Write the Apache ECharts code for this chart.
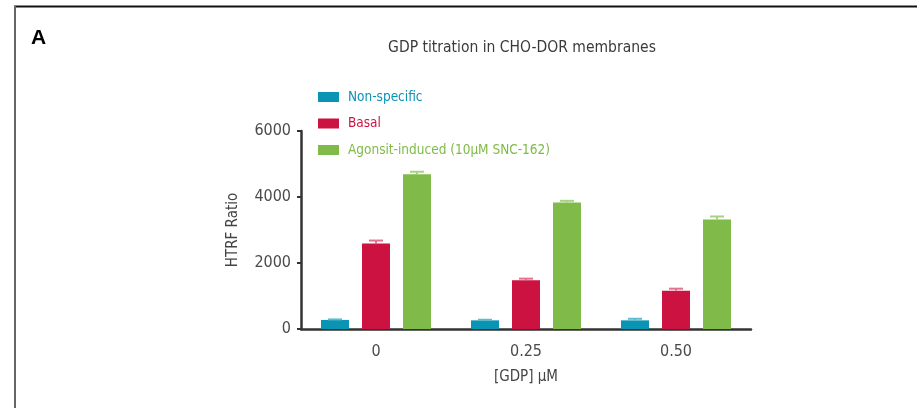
<!DOCTYPE html>
<html>
<head>
<meta charset="utf-8">
<script src="https://cdn.jsdelivr.net/npm/echarts@6/dist/echarts.min.js"></script>
<style>
  html, body { margin: 0; padding: 0; background: #fff; }
  #chart { width: 917px; height: 408px; }
</style>
</head>
<body>
<div id="chart"></div>
<script>
// GDP concentrations (µM)
const categories = ['0', '0.25', '0.50'];
const seriesNames = ['Non-specific', 'Basal', 'Agonsit-induced (10µM SNC-162)'];
// Mean HTRF ratio per condition
const nonSpecific = [275, 262, 262];
const basal = [2590, 1474, 1161];
const agonist = [4687, 3836, 3319];
// Upper end of the error bar (mean + SD)
const nonSpecificErr = [290, 280, 310];
const basalErr = [2680, 1526, 1222];
const agonistErr = [4766, 3884, 3410];
const yTicks = [0, 2000, 4000, 6000];

const colors = ['#0A94B4', '#CC1241', '#80BB49'];
const capColors = ['#5DBBD0', '#E4728D', '#A6D37F'];
const FONT = '"Liberation Sans Narrow", "DejaVu Sans Condensed", Roboto, sans-serif';

const BAR_W = 28, BAR_GAP = 13;
const means = [nonSpecific, basal, agonist];
const errs = [nonSpecificErr, basalErr, agonistErr];

function errorSeries(idx) {
  return {
    type: 'custom',
    name: seriesNames[idx] + ' SD',
    z: 3,
    silent: true,
    data: categories.map((c, i) => [i, means[idx][i], errs[idx][i]]),
    renderItem: function (params, api) {
      const x = api.coord([api.value(0), 0])[0] + (idx - 1) * (BAR_W + BAR_GAP);
      const yTop = api.coord([api.value(0), api.value(1)])[1];
      const yErr = api.coord([api.value(0), api.value(2)])[1];
      const half = 7;
      return {
        type: 'group',
        children: [
          { type: 'line', shape: { x1: x, y1: yTop, x2: x, y2: yErr },
            style: { stroke: capColors[idx], lineWidth: 2 } },
          { type: 'line', shape: { x1: x - half, y1: yErr, x2: x + half, y2: yErr },
            style: { stroke: capColors[idx], lineWidth: 2 } }
        ]
      };
    }
  };
}

const chart = echarts.init(document.getElementById('chart'), null, { renderer: 'canvas' });
chart.setOption({
  animation: false,
  backgroundColor: '#fff',
  title: {
    text: 'GDP titration in CHO-DOR membranes',
    left: 517, top: 35, textAlign: 'center',
    textStyle: { fontFamily: FONT, fontSize: 15.5, fontWeight: 'normal', color: '#3a3a3a' }
  },
  graphic: [
    { type: 'line', shape: { x1: 14, y1: 6.5, x2: 917, y2: 6.5 }, style: { stroke: '#111', lineWidth: 2 } },
    { type: 'line', shape: { x1: 15, y1: 6, x2: 15, y2: 408 }, style: { stroke: '#666', lineWidth: 2 } },
    { type: 'text', left: 31, top: 28,
      style: { text: 'A', font: 'bold 21px "Liberation Sans", Arial, sans-serif', fill: '#000' } }
  ],
  legend: {
    orient: 'vertical',
    left: 313, top: 85,
    itemWidth: 21, itemHeight: 10,
    itemGap: 12.5,
    icon: 'rect',
    textStyle: { fontFamily: FONT, fontSize: 13.5, lineHeight: 14, padding: [0, 0, 0, 4] },
    data: seriesNames.map((n, i) => ({ name: n, textStyle: { color: colors[i] } }))
  },
  grid: { left: 301, width: 450, top: 131, bottom: 408 - 329 },
  xAxis: {
    type: 'category',
    data: categories,
    name: '[GDP] µM',
    nameLocation: 'middle',
    nameGap: 41,
    nameTextStyle: { fontFamily: FONT, fontSize: 15, color: '#444' },
    axisLine: { lineStyle: { color: '#333', width: 2.5 } },
    axisTick: { alignWithLabel: true, length: 6, lineStyle: { color: '#333', width: 2 } },
    axisLabel: { fontFamily: FONT, fontSize: 16, color: '#4a4a4a', margin: 15 }
  },
  yAxis: {
    type: 'value',
    min: yTicks[0], max: yTicks[yTicks.length - 1], interval: 2000,
    name: 'HTRF Ratio',
    nameLocation: 'middle',
    nameGap: 60,
    nameTextStyle: { fontFamily: FONT, fontSize: 15, color: '#444' },
    axisLine: { show: true, lineStyle: { color: '#333', width: 2.5 } },
    axisTick: { show: true, length: 4, lineStyle: { color: '#333', width: 2 } },
    axisLabel: { fontFamily: FONT, fontSize: 16, color: '#4a4a4a', margin: 10,
      formatter: v => String(v) },
    splitLine: { show: false }
  },
  series: [
    { type: 'bar', name: seriesNames[0], data: nonSpecific, barWidth: BAR_W, barGap: (BAR_GAP / BAR_W * 100) + '%',
      itemStyle: { color: colors[0] } },
    { type: 'bar', name: seriesNames[1], data: basal, barWidth: BAR_W, barGap: (BAR_GAP / BAR_W * 100) + '%',
      itemStyle: { color: colors[1] } },
    { type: 'bar', name: seriesNames[2], data: agonist, barWidth: BAR_W, barGap: (BAR_GAP / BAR_W * 100) + '%',
      itemStyle: { color: colors[2] } },
    errorSeries(0), errorSeries(1), errorSeries(2)
  ]
});
</script>
</body>
</html>
